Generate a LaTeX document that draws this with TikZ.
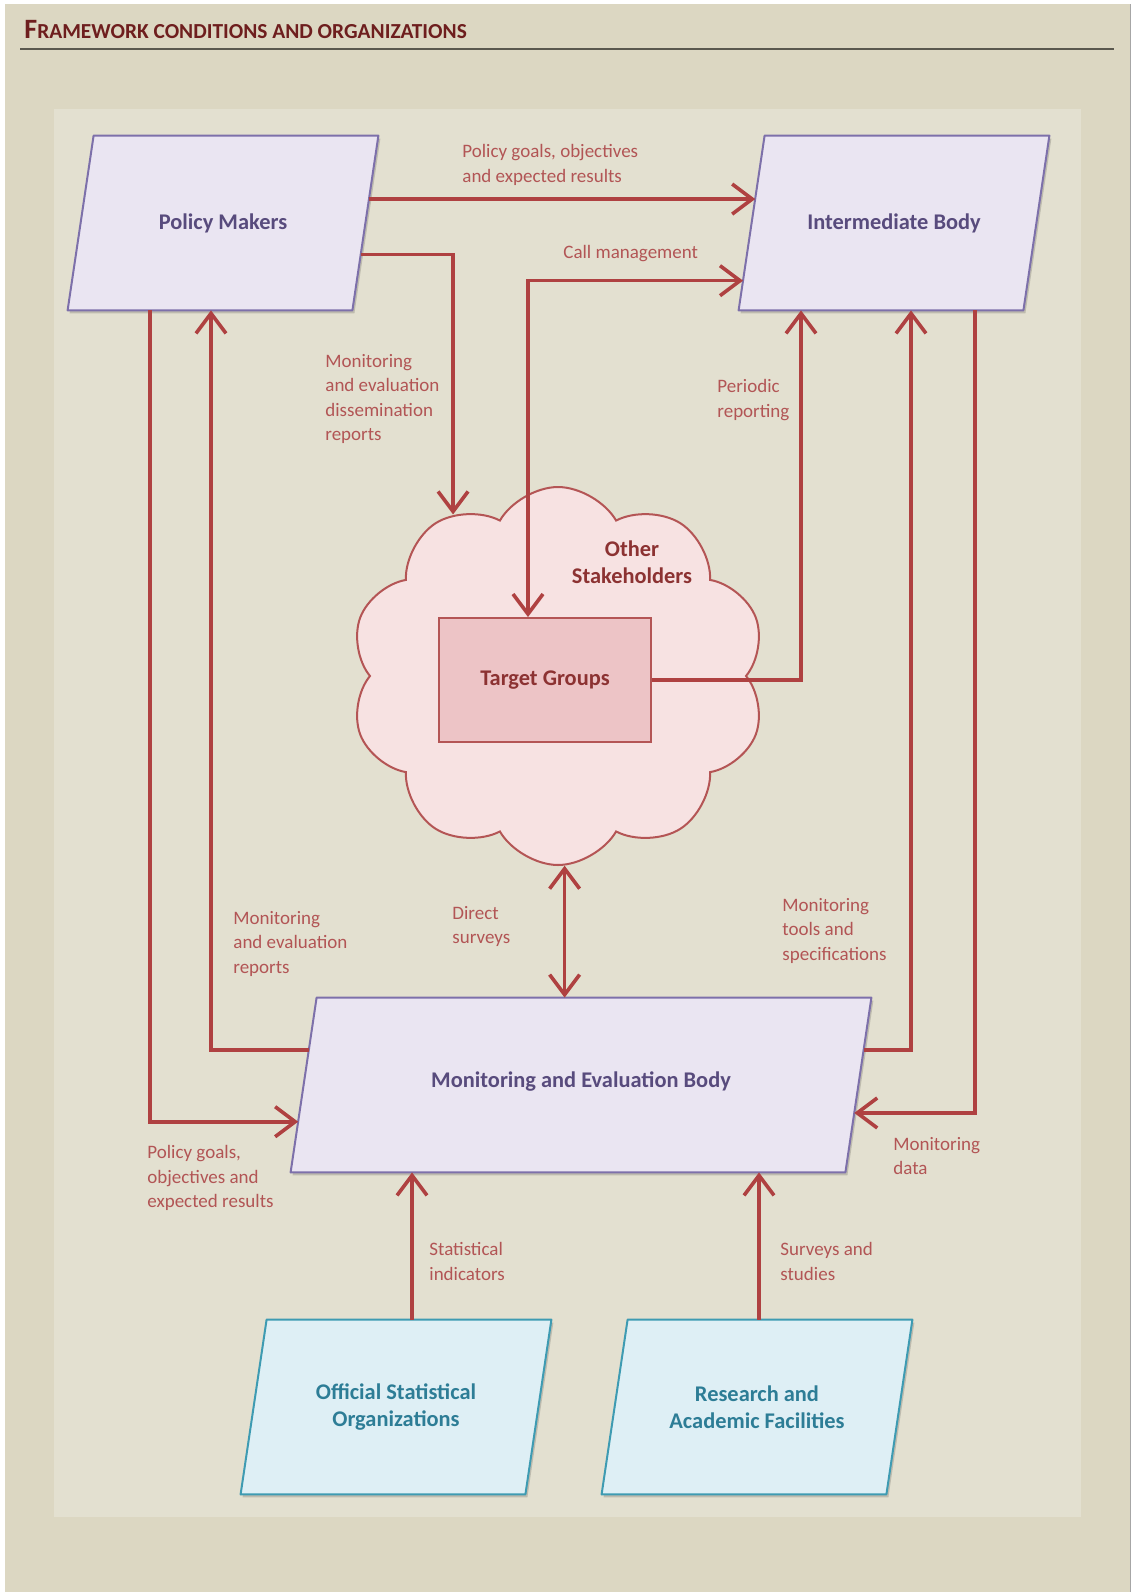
\documentclass[tikz,border=0pt]{standalone}
\usepackage{fontspec}
\setmainfont{Carlito}
\usetikzlibrary{shapes.symbols,arrows.meta,positioning,calc,backgrounds}

\definecolor{pagebg}{RGB}{220,215,194}
\definecolor{panelbg}{RGB}{227,224,208}
\definecolor{headred}{RGB}{110,30,30}
\definecolor{rulegray}{RGB}{90,88,78}
\definecolor{boxfill}{RGB}{234,229,242}
\definecolor{boxdraw}{RGB}{125,112,170}
\definecolor{boxtext}{RGB}{88,75,125}
\definecolor{flowred}{RGB}{175,65,65}
\definecolor{labelred}{RGB}{178,85,85}
\definecolor{cloudfill}{RGB}{247,226,226}
\definecolor{clouddraw}{RGB}{180,85,85}
\definecolor{tgfill}{RGB}{237,196,198}
\definecolor{tgtext}{RGB}{140,50,50}
\definecolor{cyanfill}{RGB}{222,239,245}
\definecolor{cyandraw}{RGB}{62,155,178}
\definecolor{cyantext}{RGB}{45,125,150}

% slanted box drawn behind a named node: corners #1-tl, #1-tr, #1-br, #1-bl
\newcommand{\slantbox}[2]{%
  \coordinate (#1-tl) at ($(#1.north west)+(26,0)$);
  \coordinate (#1-tr) at (#1.north east);
  \coordinate (#1-br) at ($(#1.south east)-(26,0)$);
  \coordinate (#1-bl) at (#1.south west);
  \begin{scope}[on background layer]
    \draw[#2] (#1-tl) -- (#1-tr) -- (#1-br) -- (#1-bl) -- cycle;
  \end{scope}}

\begin{document}
\begin{tikzpicture}[x=0.5pt,y=-0.5pt,
    boxfont/.style={font=\fontsize{11.2}{13.5}\selectfont\bfseries},
    pbox/.style={rectangle, minimum width=155pt, minimum height=87pt, inner sep=0pt,
      text=boxtext, boxfont, align=center},
    cbox/.style={pbox, text=cyantext},
    pshape/.style={draw=boxdraw, line width=1pt, fill=boxfill, line join=round,
      preaction={fill=black, opacity=0.16, transform canvas={xshift=1pt, yshift=-1.5pt}}},
    cshape/.style={pshape, draw=cyandraw, fill=cyanfill},
    cloudbox/.style={cloud, cloud puffs=10, cloud puff arc=120, cloud ignores aspect,
      minimum width=208pt, minimum height=189pt, draw=clouddraw, line width=1pt, fill=cloudfill},
    tgbox/.style={rectangle, minimum width=106pt, minimum height=62pt,
      draw=clouddraw, line width=1pt, fill=tgfill, text=tgtext, boxfont},
    lbl/.style={anchor=north west, inner sep=0pt, align=left, text=labelred,
      font=\fontsize{9.5}{12.2}\selectfont},
    flow/.style={draw=flowred, line width=1.8pt, -{Straight Barb[length=10pt,width=15pt]}},
    flow2/.style={flow, {Straight Barb[length=10pt,width=15pt]}-{Straight Barb[length=10pt,width=15pt]}}]

  % page and panel
  \useasboundingbox (0,0) rectangle (1131,1592);
  \begin{scope}[on background layer]
    \fill[white] (0,0) rectangle (1131,1592);
    \fill[pagebg] (5,4) rectangle (1131,1592);
    \fill[black!35] (1129.5,4) rectangle (1131,1592);
    \fill[panelbg] (54,109) rectangle (1081,1517);
  \end{scope}

  % heading
  \node[anchor=base west, inner sep=0pt, text=headred, font=\bfseries] (title) at (24,38)
    {{\fontsize{14}{15}\selectfont F}{\fontsize{10.7}{12}\selectfont RAMEWORK CONDITIONS AND ORGANIZATIONS}};
  \draw[rulegray, line width=1.1pt] (20,48.7) -- (1114,48.7);

  % boxes
  \node[pbox] (pm) at (223,223) {Policy Makers};
  \node[pbox] (ib) at (894,223) {Intermediate Body};
  \node[pbox, minimum width=290pt] (me) at (581,1085) {\raisebox{5pt}{Monitoring and Evaluation Body}};
  \node[cbox] (oso) at (396,1407) {Official Statistical\\Organizations};
  \node[cbox] (raf) at (757,1407) {Research and\\Academic Facilities};
  \slantbox{pm}{pshape}
  \slantbox{ib}{pshape}
  \slantbox{me}{pshape}
  \slantbox{oso}{cshape}
  \slantbox{raf}{cshape}

  % cloud with target groups
  \node[cloudbox] (cloud) at (558,676) {};
  \node[text=tgtext, boxfont, align=center] (other) at (632,562) {Other\\Stakeholders};
  \node[tgbox] (tg) at (545,680) {Target Groups};

  % bend positions
  \coordinate (cmx) at (528,0);
  \coordinate (prx) at (801,0);
  \coordinate (mtx) at (911,0);
  \coordinate (mdx) at (975,0);
  \coordinate (pgx) at (150,0);
  \coordinate (mrx) at (211,0);
  \coordinate (stx) at (412,0);
  \coordinate (ssx) at (759,0);

  % connectors
  \draw[flow] ($(pm-tr)!0.363!(pm-br)$) -- ($(ib-tl)!0.363!(ib-bl)$);
  \draw[flow2] (tg.north -| cmx) |- ($(ib-tl)!0.83!(ib-bl)$);
  \draw[flow] ($(pm-tr)!0.68!(pm-br)$) -| (cloud.123);
  \draw[flow] (tg.east) -| (ib.south -| prx);
  \draw[flow] ($(me-tr)!0.30!(me-br)$) -| (ib.south -| mtx);
  \draw[flow] (ib.south -| mdx) |- ($(me-tr)!0.66!(me-br)$);
  \draw[flow] (pm.south -| pgx) |- ($(me-tl)!0.71!(me-bl)$);
  \draw[flow] ($(me-tl)!0.30!(me-bl)$) -| (pm.south -| mrx);
  \draw[flow2] (cloud.-88) -- (cloud.-88 |- me.north);
  \draw[flow] (oso.north -| stx) -- (me.south -| stx);
  \draw[flow] (raf.north -| ssx) -- (me.south -| ssx);

  % labels
  \node[lbl] (lgoals) at (462,144) {Policy goals, objectives\\and expected results};
  \node[lbl] (lcall) at (563,245) {Call management};
  \node[lbl] (ldiss) at (325,354) {Monitoring\\and evaluation\\dissemination\\reports};
  \node[lbl] (lper) at (717,379) {Periodic\\reporting};
  \node[lbl] (lrep) at (233,911) {Monitoring\\and evaluation\\reports};
  \node[lbl] (ldir) at (452,906) {Direct\\surveys};
  \node[lbl] (ltools) at (782,898) {Monitoring\\tools and\\specifications};
  \node[lbl] (lgoals2) at (147,1145) {Policy goals,\\objectives and\\expected results};
  \node[lbl] (ldata) at (893,1137) {Monitoring\\data};
  \node[lbl] (lstat) at (429,1242) {Statistical\\indicators};
  \node[lbl] (lsurv) at (780,1242) {Surveys and\\studies};
\end{tikzpicture}
\end{document}
